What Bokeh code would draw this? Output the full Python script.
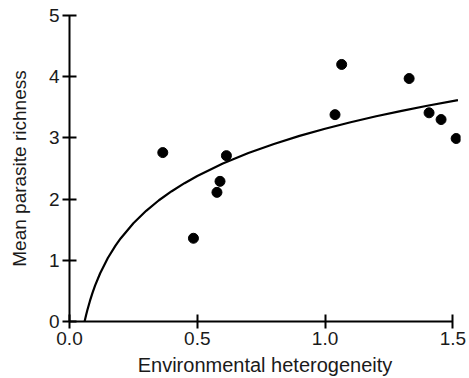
from bokeh.plotting import figure
from bokeh.models import Range1d, FixedTicker, ColumnDataSource
from bokeh.embed import file_html
from bokeh.resources import INLINE

# Observed sites
het_x = [0.365, 0.485, 0.577, 0.589, 0.614, 1.039, 1.065, 1.329, 1.407, 1.454, 1.513]
rich_y = [2.76, 1.36, 2.11, 2.29, 2.71, 3.38, 4.20, 3.97, 3.41, 3.30, 2.99]

# Fitted curve
curve_x = [0.059, 0.065, 0.07, 0.08, 0.09, 0.1, 0.12, 0.15, 0.18, 0.2, 0.25, 0.3, 0.35,
           0.4, 0.45, 0.5, 0.6, 0.7, 0.8, 0.9, 1.0, 1.1, 1.2, 1.3, 1.4, 1.52]
curve_y = [0.0, 0.105, 0.187, 0.336, 0.468, 0.585, 0.788, 1.037, 1.240, 1.357, 1.606, 1.809, 1.981,
           2.129, 2.260, 2.378, 2.581, 2.753, 2.901, 3.033, 3.150, 3.256, 3.353, 3.442, 3.525, 3.616]

x_ticks = [0.0, 0.5, 1.0, 1.5]
y_ticks = [0, 1, 2, 3, 4, 5]
x_tick_labels = {0.0: "0.0", 0.5: "0.5", 1.0: "1.0", 1.5: "1.5"}
y_tick_labels = {0: "0", 1: "1", 2: "2", 3: "3", 4: "4", 5: "5"}

FONT = "Liberation Sans"

p = figure(width=469, height=378, output_backend="svg", toolbar_location=None,
           x_range=Range1d(0, 1.53), y_range=Range1d(0, 5),
           min_border_left=69, min_border_right=9, min_border_top=15, min_border_bottom=57)
p.outline_line_color = None
p.grid.visible = False
p.background_fill_color = "white"
p.border_fill_color = "white"

p.line(curve_x, curve_y, line_color="black", line_width=2.2)
src = ColumnDataSource(dict(x=het_x, y=rich_y))
p.scatter("x", "y", source=src, size=10, fill_color="black", line_color="black")

for ax, ticks, labels in ((p.xaxis[0], x_ticks, x_tick_labels), (p.yaxis[0], y_ticks, y_tick_labels)):
    ax.ticker = FixedTicker(ticks=ticks)
    ax.major_label_overrides = labels
    ax.axis_line_width = 2
    ax.axis_line_color = "black"
    ax.major_tick_line_width = 2
    ax.major_tick_line_color = "black"
    ax.minor_tick_line_color = None
    ax.major_tick_in = 7
    ax.major_tick_out = 7
    ax.major_label_text_font = FONT
    ax.major_label_text_font_size = "19px"
    ax.major_label_text_color = "#1a1a1a"
    ax.axis_label_text_font = FONT
    ax.axis_label_text_font_size = "19px"
    ax.axis_label_text_font_style = "normal"
    ax.axis_label_text_color = "#1a1a1a"

p.xaxis.axis_label_text_font_size = "20px"
p.xaxis.bounds = (0, 1.5)
p.yaxis.bounds = (0, 5)
p.xaxis.axis_label = "Environmental heterogeneity"
p.yaxis.axis_label = "Mean parasite richness"
p.xaxis.major_label_standoff = 3
p.yaxis.major_label_standoff = 3
p.xaxis.axis_label_standoff = 6
p.yaxis.axis_label_standoff = 16

open("out.html", "w").write(file_html(p, INLINE))
